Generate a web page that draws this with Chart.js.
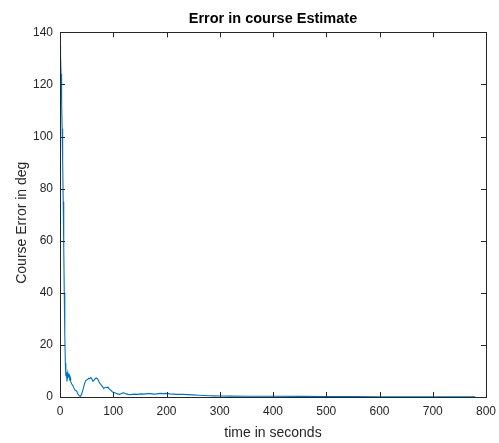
<!DOCTYPE html>
<html>
<head>
<meta charset="utf-8">
<script src="https://cdn.jsdelivr.net/npm/chart.js@4.4.1/dist/chart.umd.min.js"></script>
<style>
  html, body { margin: 0; padding: 0; background: #ffffff; }
  #wrap { width: 499px; height: 443px; }
</style>
</head>
<body>
<div id="wrap"><canvas id="c" width="499" height="443"></canvas></div>
<script>
// Course estimate error over time (seconds, degrees)
const timeSec = [
  0, 1, 2, 3, 4, 5, 6, 7, 8, 9, 10, 11, 12, 13, 14, 15, 16, 17, 18, 19, 20,
  22, 24, 26, 28, 30, 32, 34, 36, 38, 40, 42, 44, 46, 48, 50, 52, 54, 56, 58,
  60, 62, 64, 66, 68, 70, 72, 74, 76, 78, 80, 82, 84, 86, 88, 90, 92, 94, 96,
  98, 100, 104, 108, 112, 116, 120, 124, 128, 132, 136, 140, 146, 152, 158,
  164, 170, 176, 182, 188, 194, 200, 206, 212, 220, 230, 240, 250, 260, 270,
  280, 290, 300, 320, 350, 400, 450, 500, 550, 600, 650, 700, 750, 780
];
const courseErrorDeg = [
  135, 131, 124, 114, 103, 90, 75, 58, 40, 24, 13, 8, 9.5, 6, 7.5, 9, 8, 8.5, 7, 7.5, 6,
  5, 4.5, 3.5, 2.7, 2.5, 2, 1, 0.5, 0.2, 0.8, 2, 3.5, 5, 6.2, 6.5, 6.8, 7.2, 7, 7.5,
  6.8, 6, 6.5, 7, 7.3, 7, 6.5, 5.5, 5, 4.5, 4, 3.2, 3.6, 3.8, 3.5, 3.8, 3.2, 2.8, 2.5,
  2, 1.8, 1.5, 1.2, 1, 1.4, 1.6, 1.2, 1, 0.9, 1, 1.1, 1, 1.2, 1.1,
  1.3, 1.3, 1.1, 1.2, 1.4, 1.3, 1.4, 1.2, 1.1, 1.0, 1.0, 0.9, 0.8, 0.7, 0.6,
  0.5, 0.45, 0.4, 0.35, 0.3, 0.3, 0.25, 0.2, 0.15, 0.1, 0.05, 0.05, 0.05, 0.05
];
const xTicks = [0, 100, 200, 300, 400, 500, 600, 700, 800];
const yTicks = [0, 20, 40, 60, 80, 100, 120, 140];
const yLabel = 'Course Error in deg';

const INK = '#262626';
const FONT = "Arial, 'Liberation Sans', Helvetica, sans-serif";

// Boxed axes with inward tick marks on all four sides, plus the y-axis label
const boxAxes = {
  id: 'boxAxes',
  afterDatasetsDraw(chart) {
    const { ctx, chartArea: a, scales } = chart;
    const len = 5;
    ctx.save();
    ctx.strokeStyle = INK;
    ctx.lineWidth = 1;
    ctx.beginPath();
    xTicks.forEach(v => {
      const x = Math.round(scales.x.getPixelForValue(v)) + 0.5;
      ctx.moveTo(x, a.bottom); ctx.lineTo(x, a.bottom - len);
      ctx.moveTo(x, a.top); ctx.lineTo(x, a.top + len);
    });
    yTicks.forEach(v => {
      const y = Math.round(scales.y.getPixelForValue(v)) + 0.5;
      ctx.moveTo(a.left, y); ctx.lineTo(a.left + len, y);
      ctx.moveTo(a.right, y); ctx.lineTo(a.right - len, y);
    });
    ctx.stroke();
    ctx.strokeRect(Math.round(a.left) + 0.5, Math.round(a.top) + 0.5,
                   Math.round(a.right - a.left), Math.round(a.bottom - a.top));

    // y-axis label, rotated, sitting slightly below the axis midpoint
    ctx.fillStyle = INK;
    ctx.font = '14px ' + FONT;
    ctx.textAlign = 'center';
    ctx.textBaseline = 'middle';
    ctx.translate(22, (a.top + a.bottom) / 2 + 8);
    ctx.rotate(-Math.PI / 2);
    ctx.fillText(yLabel, 0, 0);
    ctx.restore();
  }
};

new Chart(document.getElementById('c'), {
  type: 'line',
  data: {
    datasets: [{
      data: timeSec.map((t, i) => ({ x: t, y: courseErrorDeg[i] })),
      borderColor: '#0072BD',
      borderWidth: 1.1,
      pointRadius: 0,
      tension: 0,
      fill: false
    }]
  },
  options: {
    responsive: false,
    animation: false,
    layout: { padding: { right: 13 } },
    plugins: {
      legend: { display: false },
      tooltip: { enabled: false },
      title: {
        display: true,
        text: 'Error in course Estimate',
        color: '#000000',
        fullSize: false,
        font: { family: FONT, size: 14.5, weight: 'bold' },
        padding: { top: 10, bottom: 5 }
      }
    },
    scales: {
      x: {
        type: 'linear',
        min: 0, max: 800,
        afterFit(s) { s.height = 46; s.paddingLeft = 0; s.paddingRight = 0; },
        afterBuildTicks(s) { s.ticks = xTicks.map(v => ({ value: v })); },
        grid: { display: false, drawTicks: false },
        border: { display: false },
        ticks: { color: INK, font: { family: FONT, size: 12 }, padding: 7, maxRotation: 0 },
        title: {
          display: true, text: 'time in seconds', color: INK,
          font: { family: FONT, size: 14 }, padding: { top: 0, bottom: 1 }
        }
      },
      y: {
        type: 'linear',
        min: 0, max: 140,
        afterFit(s) { s.width = 60; s.paddingTop = 0; s.paddingBottom = 0; },
        afterBuildTicks(s) { s.ticks = yTicks.map(v => ({ value: v })); },
        grid: { display: false, drawTicks: false },
        border: { display: false },
        ticks: { color: INK, font: { family: FONT, size: 12 }, padding: 7 }
      }
    }
  },
  plugins: [boxAxes]
});
</script>
</body>
</html>
